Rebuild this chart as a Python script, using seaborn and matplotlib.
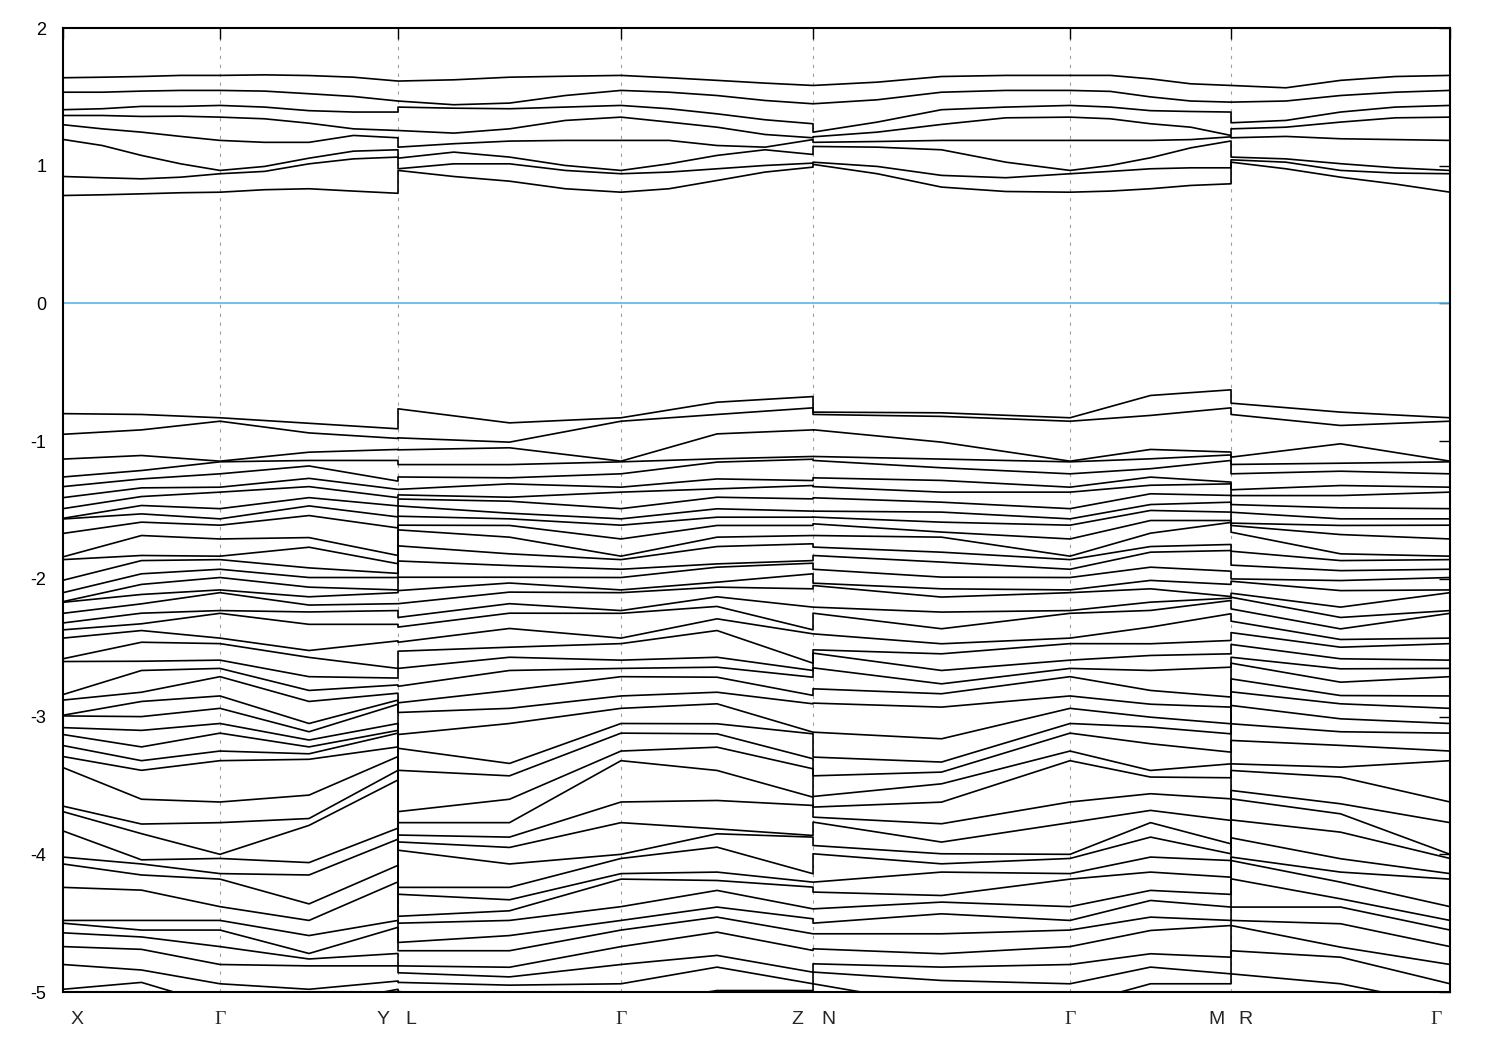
import matplotlib
matplotlib.use("Agg")
import pandas as pd
import matplotlib.pyplot as plt
import seaborn as sns

# k-path: high-symmetry points (path length, arbitrary units)
kpath = [0, 157, 335, 558, 750, 1007, 1168, 1387]
klabels = ["X", "Γ", "Y", "L", "Γ", "Z", "N", "Γ", "M", "R", "Γ"]
klabel_pos = [14, 157, 320, 348, 558, 734, 765, 1007, 1153, 1182, 1373]

# conduction bands (eV), read at segment ends and quarter points
cb_G = [0.808, 0.942, 0.966, 1.184, 1.353, 1.438, 1.547, 1.656]
# X - Gamma - Y
cb_X = [0.784, 0.922, 1.191, 1.298, 1.365, 1.407, 1.534, 1.639]
cb_XG25 = [0.789, 0.913, 1.147, 1.268, 1.365, 1.414, 1.534, 1.643]
cb_XG50 = [0.796, 0.905, 1.075, 1.244, 1.358, 1.431, 1.542, 1.648]
cb_XG75 = [0.804, 0.917, 1.014, 1.213, 1.36, 1.431, 1.547, 1.656]
cb_GY25 = [0.826, 0.959, 0.995, 1.17, 1.341, 1.426, 1.542, 1.66]
cb_GY50 = [0.833, 1.014, 1.055, 1.17, 1.309, 1.40, 1.523, 1.655]
cb_GY75 = [0.816, 1.05, 1.106, 1.22, 1.268, 1.39, 1.503, 1.643]
cb_Y = [0.80, 1.063, 1.116, 1.203, 1.256, 1.39, 1.47, 1.615]
# L - Gamma - Z
cb_L = [0.966, 0.978, 1.055, 1.135, 1.256, 1.426, 1.47, 1.615]
cb_LG25 = [0.922, 1.014, 1.099, 1.16, 1.237, 1.418, 1.443, 1.624]
cb_LG50 = [0.888, 1.014, 1.063, 1.179, 1.268, 1.414, 1.455, 1.643]
cb_LG75 = [0.833, 0.966, 1.002, 1.184, 1.329, 1.426, 1.51, 1.65]
cb_GZ25 = [0.833, 0.954, 1.014, 1.184, 1.317, 1.414, 1.534, 1.639]
cb_GZ50 = [0.893, 0.978, 1.075, 1.147, 1.28, 1.377, 1.51, 1.62]
cb_GZ75 = [0.954, 1.002, 1.116, 1.135, 1.227, 1.334, 1.474, 1.60]
cb_Z = [0.99, 1.019, 1.082, 1.19, 1.203, 1.305, 1.45, 1.583]
# N - Gamma - M
cb_N = [1.01, 1.026, 1.14, 1.17, 1.21, 1.244, 1.45, 1.583]
cb_NG25 = [0.942, 0.995, 1.135, 1.176, 1.244, 1.317, 1.479, 1.607]
cb_NG50 = [0.845, 0.93, 1.116, 1.184, 1.30, 1.407, 1.534, 1.648]
cb_NG75 = [0.813, 0.913, 1.026, 1.184, 1.348, 1.426, 1.547, 1.656]
cb_GM25 = [0.816, 0.959, 1.002, 1.184, 1.341, 1.426, 1.54, 1.656]
cb_GM50 = [0.833, 0.978, 1.058, 1.184, 1.305, 1.40, 1.50, 1.631]
cb_GM75 = [0.857, 0.985, 1.13, 1.19, 1.28, 1.394, 1.47, 1.595]
cb_M = [0.869, 0.985, 1.18, 1.21, 1.22, 1.39, 1.462, 1.583]
# R - Gamma
cb_R = [1.026, 1.043, 1.063, 1.203, 1.268, 1.312, 1.462, 1.583]
cb_RG25 = [0.978, 1.026, 1.05, 1.213, 1.28, 1.329, 1.47, 1.566]
cb_RG50 = [0.917, 0.966, 1.015, 1.196, 1.317, 1.39, 1.51, 1.62]
cb_RG75 = [0.867, 0.947, 0.985, 1.19, 1.348, 1.426, 1.534, 1.648]

# valence bands (eV), read at segment ends and mid points (below -5 = off window)
vb_X = [-0.80, -0.95, -1.13, -1.26, -1.33, -1.41, -1.49, -1.56, -1.565, -1.67, -1.84,
        -1.86, -2.01, -2.10, -2.165, -2.17, -2.25, -2.32, -2.37, -2.43, -2.58, -2.60,
        -2.84, -2.88, -2.99, -2.995, -3.08, -3.13, -3.21, -3.29, -3.37, -3.65, -3.69,
        -3.83, -4.02, -4.07, -4.24, -4.48, -4.50, -4.57, -4.67, -4.80, -4.98]
vb_XG = [-0.806, -0.918, -1.104, -1.213, -1.274, -1.339, -1.402, -1.467, -1.528, -1.588,
         -1.685, -1.83, -1.867, -1.963, -2.04, -2.113, -2.181, -2.249, -2.326, -2.375,
         -2.46, -2.598, -2.665, -2.823, -2.89, -3.0, -3.10, -3.22, -3.32, -3.39, -3.60,
         -3.78, -3.85, -4.04, -4.07, -4.15, -4.26, -4.48, -4.55, -4.60, -4.69, -4.84, -4.93]
vb_G = [-0.83, -0.855, -1.145, -1.15, -1.237, -1.334, -1.37, -1.49, -1.564, -1.61, -1.71,
        -1.835, -1.86, -1.93, -1.99, -2.08, -2.10, -2.23, -2.25, -2.43, -2.47, -2.59,
        -2.65, -2.71, -2.85, -2.94, -3.05, -3.12, -3.25, -3.32, -3.62, -3.77, -4.00,
        -4.03, -4.14, -4.18, -4.38, -4.48, -4.55, -4.67, -4.80, -4.94, -5.1]
vb_GY = [-0.87, -0.94, -1.08, -1.14, -1.18, -1.27, -1.33, -1.41, -1.47, -1.54, -1.70,
         -1.77, -1.92, -1.99, -2.06, -2.13, -2.19, -2.24, -2.33, -2.52, -2.57, -2.71,
         -2.81, -2.89, -3.05, -3.11, -3.17, -3.22, -3.27, -3.31, -3.57, -3.74, -3.79,
         -4.06, -4.15, -4.36, -4.48, -4.59, -4.72, -4.76, -4.81, -4.98, -5.1]
vb_Y = [-0.91, -0.98, -1.06, -1.14, -1.29, -1.35, -1.41, -1.47, -1.55, -1.63, -1.83,
        -1.89, -1.96, -1.99, -2.08, -2.10, -2.18, -2.23, -2.33, -2.45, -2.65, -2.72,
        -2.77, -2.83, -2.88, -2.91, -3.05, -3.10, -3.12, -3.22, -3.29, -3.39, -3.46,
        -3.81, -3.89, -4.08, -4.20, -4.48, -4.53, -4.72, -4.81, -4.92, -4.98]
vb_L = [-0.765, -0.976, -1.063, -1.17, -1.26, -1.35, -1.39, -1.42, -1.47, -1.545, -1.61,
        -1.644, -1.76, -1.87, -1.988, -2.085, -2.18, -2.28, -2.35, -2.46, -2.525, -2.65,
        -2.78, -2.90, -2.97, -3.13, -3.23, -3.39, -3.69, -3.77, -3.86, -3.91, -3.97,
        -4.24, -4.29, -4.45, -4.50, -4.64, -4.70, -4.81, -4.86, -4.93, -4.995]
vb_LG = [-0.867, -1.007, -1.048, -1.17, -1.266, -1.31, -1.407, -1.436, -1.523, -1.564,
         -1.612, -1.697, -1.818, -1.903, -1.988, -2.03, -2.096, -2.18, -2.249, -2.36,
         -2.496, -2.569, -2.665, -2.81, -2.94, -3.05, -3.34, -3.43, -3.60, -3.77, -3.875,
         -3.95, -4.07, -4.24, -4.33, -4.41, -4.48, -4.59, -4.70, -4.82, -4.89, -4.95, -5.1]
vb_GZ = [-0.717, -0.806, -0.947, -1.128, -1.152, -1.274, -1.346, -1.407, -1.491, -1.552,
         -1.612, -1.697, -1.765, -1.891, -1.915, -2.024, -2.06, -2.13, -2.20, -2.29,
         -2.375, -2.569, -2.641, -2.714, -2.823, -2.907, -3.052, -3.125, -3.222, -3.391,
         -3.609, -3.815, -3.851, -3.948, -4.129, -4.19, -4.262, -4.383, -4.456, -4.565,
         -4.734, -4.819, -4.989]
vb_Z = [-0.676, -0.758, -0.918, -1.111, -1.131, -1.286, -1.322, -1.419, -1.508, -1.552,
        -1.612, -1.685, -1.745, -1.867, -1.886, -1.963, -2.072, -2.205, -2.37, -2.399,
        -2.612, -2.665, -2.714, -2.846, -2.907, -3.113, -3.125, -3.306, -3.379, -3.585,
        -3.645, -3.863, -3.875, -4.141, -4.202, -4.238, -4.396, -4.468, -4.577, -4.698,
        -4.856, -4.94, -4.989]
vb_N = [-0.789, -0.806, -0.917, -1.111, -1.14, -1.266, -1.33, -1.411, -1.508, -1.551,
        -1.60, -1.685, -1.769, -1.83, -1.93, -2.031, -2.048, -2.205, -2.249, -2.399,
        -2.515, -2.539, -2.646, -2.798, -2.902, -3.113, -3.294, -3.43, -3.58, -3.657,
        -3.73, -3.766, -3.936, -3.996, -4.202, -4.274, -4.396, -4.5, -4.577, -4.686,
        -4.795, -4.855, -4.94]
vb_NG = [-0.794, -0.82, -1.007, -1.13, -1.193, -1.285, -1.37, -1.443, -1.515, -1.588,
         -1.66, -1.697, -1.806, -1.878, -1.987, -2.072, -2.132, -2.241, -2.362, -2.471,
         -2.544, -2.665, -2.762, -2.834, -2.931, -3.161, -3.33, -3.403, -3.488, -3.621,
         -3.778, -3.911, -3.996, -4.069, -4.129, -4.299, -4.347, -4.432, -4.577, -4.722,
         -4.819, -4.916, -5.1]
vb_GM = [-0.668, -0.813, -1.06, -1.128, -1.20, -1.261, -1.32, -1.382, -1.46, -1.503,
         -1.576, -1.668, -1.765, -1.806, -1.915, -2.011, -2.072, -2.169, -2.229, -2.35,
         -2.471, -2.556, -2.665, -2.81, -2.91, -3.004, -3.076, -3.197, -3.391, -3.439,
         -3.56, -3.681, -3.77, -3.875, -4.02, -4.129, -4.262, -4.335, -4.456, -4.553,
         -4.722, -4.819, -4.94]
vb_M = [-0.627, -0.758, -1.079, -1.10, -1.14, -1.297, -1.31, -1.394, -1.443, -1.515,
        -1.576, -1.59, -1.75, -1.794, -1.944, -2.04, -2.128, -2.14, -2.157, -2.253,
        -2.447, -2.544, -2.641, -2.858, -2.931, -3.052, -3.125, -3.258, -3.343, -3.444,
        -3.597, -3.754, -3.924, -3.996, -4.045, -4.166, -4.291, -4.383, -4.48, -4.517,
        -4.747, -4.868, -4.94]
vb_R = [-0.724, -0.806, -1.116, -1.169, -1.237, -1.353, -1.395, -1.46, -1.516, -1.595,
        -1.612, -1.661, -1.799, -1.90, -2.0, -2.017, -2.104, -2.133, -2.218, -2.307,
        -2.39, -2.476, -2.569, -2.612, -2.726, -2.82, -2.919, -3.052, -3.173, -3.343,
        -3.391, -3.536, -3.597, -3.75, -3.88, -4.02, -4.045, -4.178, -4.383, -4.48,
        -4.517, -4.70, -4.868]
vb_RG = [-0.789, -0.886, -1.019, -1.16, -1.218, -1.322, -1.395, -1.484, -1.564, -1.612,
         -1.678, -1.818, -1.867, -1.94, -2.012, -2.085, -2.205, -2.28, -2.363, -2.44,
         -2.496, -2.58, -2.653, -2.75, -2.847, -2.907, -3.016, -3.11, -3.209, -3.367,
         -3.439, -3.633, -3.706, -3.839, -4.032, -4.129, -4.202, -4.323, -4.383, -4.504,
         -4.674, -4.747, -4.94]

X, G1, YL, G2, ZN, G3, MR, G4 = kpath


def seg_nodes(a, b, fracs):
    return [a + f * (b - a) for f in fracs]


half = [0, 0.5]
quart = [0, 0.25, 0.5, 0.75]

vb_k = (seg_nodes(X, G1, half) + seg_nodes(G1, YL, half) + [YL]
        + seg_nodes(YL, G2, half) + seg_nodes(G2, ZN, half) + [ZN]
        + seg_nodes(ZN, G3, half) + seg_nodes(G3, MR, half) + [MR]
        + seg_nodes(MR, G4, half) + [G4])
vb_seq = [vb_X, vb_XG, vb_G, vb_GY, vb_Y,
          vb_L, vb_LG, vb_G, vb_GZ, vb_Z,
          vb_N, vb_NG, vb_G, vb_GM, vb_M,
          vb_R, vb_RG, vb_G]

cb_k = (seg_nodes(X, G1, quart) + seg_nodes(G1, YL, quart) + [YL]
        + seg_nodes(YL, G2, quart) + seg_nodes(G2, ZN, quart) + [ZN]
        + seg_nodes(ZN, G3, quart) + seg_nodes(G3, MR, quart) + [MR]
        + seg_nodes(MR, G4, quart) + [G4])
cb_seq = [cb_X, cb_XG25, cb_XG50, cb_XG75, cb_G, cb_GY25, cb_GY50, cb_GY75, cb_Y,
          cb_L, cb_LG25, cb_LG50, cb_LG75, cb_G, cb_GZ25, cb_GZ50, cb_GZ75, cb_Z,
          cb_N, cb_NG25, cb_NG50, cb_NG75, cb_G, cb_GM25, cb_GM50, cb_GM75, cb_M,
          cb_R, cb_RG25, cb_RG50, cb_RG75, cb_G]

# bands are ordered by energy at every k point, one continuous line per band
rows = []
for k, vals in zip(vb_k, vb_seq):
    for i, e in enumerate(sorted(vals, reverse=True)):
        rows.append((k, e, "v%d" % i))
for k, vals in zip(cb_k, cb_seq):
    for i, e in enumerate(sorted(vals)):
        rows.append((k, e, "c%d" % i))
df = pd.DataFrame(rows, columns=["k", "E", "band"])

sns.set_style("white")
plt.rcParams["font.family"] = ["Liberation Sans", "DejaVu Sans"]
plt.rcParams["axes.unicode_minus"] = False

fig = plt.figure(figsize=(15, 10.5), dpi=100)
ax = fig.add_axes([0.042, 0.0552, 0.9247, 0.9181])

for x in kpath[1:-1]:
    ax.axvline(x, color="#a0a0a0", lw=0.8, ls=(0, (3, 5)), zorder=0)
ax.axhline(0, color="#56b4e9", lw=1.2, zorder=1)

sns.lineplot(data=df, x="k", y="E", units="band", estimator=None, sort=False,
             color="black", lw=1.2, ax=ax, legend=False)

ax.set_xlim(kpath[0], kpath[-1])
ax.set_ylim(-5, 2)
ax.set_xlabel("")
ax.set_ylabel("")
ax.set_xticks(kpath)
ax.set_xticklabels([])
ax.set_yticks([2, 1, 0, -1, -2, -3, -4, -5])
ax.set_yticklabels(["2", "1", "0", "-1", "-2", "-3", "-4", "-5"], fontsize=13)
ax.tick_params(axis="both", direction="in", length=8, width=1, top=True, right=True,
               colors="black")
ax.tick_params(axis="y", pad=12)
for s in ax.spines.values():
    s.set_linewidth(1.5)
    s.set_color("black")

for lab, x in zip(klabels, klabel_pos):
    fam = ["Liberation Serif", "DejaVu Serif"] if lab == "Γ" else ["Liberation Sans", "DejaVu Sans"]
    ax.text(x, -0.029, lab, transform=ax.get_xaxis_transform(), ha="center", va="center",
            fontsize=14, family=fam)

fig.savefig("out.png", dpi=100)
